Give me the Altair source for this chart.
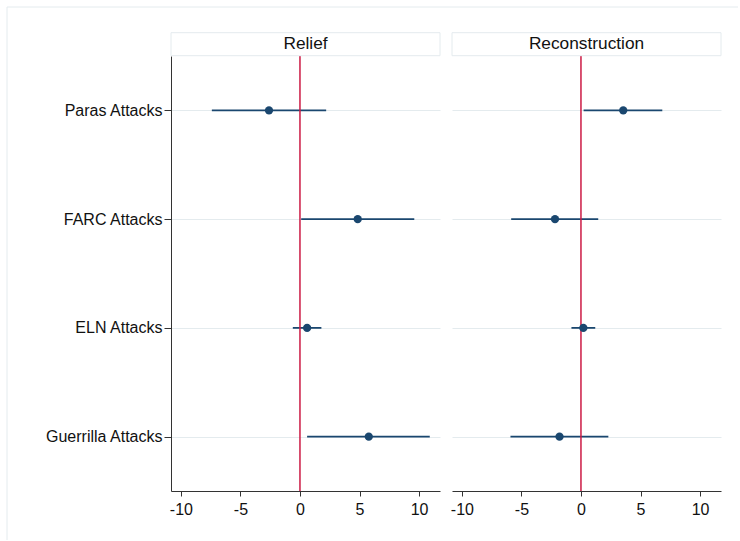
import altair as alt
import pandas as pd

FONT = "Liberation Sans"
NAVY = "#1a476f"
RED = "#cc1a44"
LIGHT = "#e4ebee"
AXIS = "#333333"

panels = ["Relief", "Reconstruction"]
variables = ["Paras Attacks", "FARC Attacks", "ELN Attacks", "Guerrilla Attacks"]
relief_coef = [-2.6, 4.85, 0.6, 5.78]
relief_lo = [-7.4, 0.1, -0.6, 0.6]
relief_hi = [2.2, 9.6, 1.8, 10.9]
recon_coef = [3.55, -2.18, 0.2, -1.8]
recon_lo = [0.22, -5.86, -0.8, -5.92]
recon_hi = [6.83, 1.45, 1.2, 2.3]
x_ticks = [-10, -5, 0, 5, 10]
x_domain = [-10.83, 11.76]

W = 269
H = 435


def panel(name, coef, lo, hi, first):
    df = pd.DataFrame({"var": variables, "coef": coef, "lo": lo, "hi": hi})
    one = pd.DataFrame({"z": [0]})
    xscale = alt.Scale(domain=x_domain, nice=False, zero=False)
    yscale = alt.Scale(type="point", domain=variables, padding=0.5)
    xaxis = alt.Axis(values=x_ticks, grid=False, domainColor=AXIS, tickColor=AXIS,
                     tickSize=5, labelPadding=5, labelFontSize=16, labelFont=FONT,
                     labelColor="#111111", title=None, labelExpr="'' + datum.value")
    if first:
        yaxis = alt.Axis(grid=True, gridColor=LIGHT, domainColor=AXIS, tickColor=AXIS,
                         tickSize=7, labelPadding=2, labelFontSize=16, labelFont=FONT,
                         labelColor="#111111", title=None)
    else:
        yaxis = alt.Axis(grid=True, gridColor=LIGHT, domain=False, ticks=False,
                         labels=False, title=None)

    y = alt.Y("var:N", scale=yscale, axis=yaxis, sort=variables)
    base = alt.Chart(df)
    ci = base.mark_rule(color=NAVY, strokeWidth=1.8).encode(
        x=alt.X("lo:Q", scale=xscale, axis=xaxis), x2="hi:Q", y=y)
    zero = alt.Chart(one).mark_rule(color=RED, strokeWidth=1.5).encode(
        x=alt.X("z:Q", scale=xscale, axis=xaxis))
    pts = base.mark_circle(color=NAVY, size=68, opacity=1).encode(
        x=alt.X("coef:Q", scale=xscale, axis=xaxis), y=y)
    head = alt.Chart(one).mark_rect(fill="white", stroke=LIGHT, strokeWidth=1).encode(
        x=alt.value(0), x2=alt.value(W), y=alt.value(-23.3), y2=alt.value(-0.3))
    txt = alt.Chart(one).mark_text(fontSize=17.3, font=FONT, baseline="alphabetic",
                                   align="center", color="#111111").encode(
        x=alt.value(W / 2), y=alt.value(-6.7), text=alt.value(name))
    layers = [ci, zero, pts, head, txt]
    if first:
        top = alt.Chart(one).mark_rule(color=LIGHT, strokeWidth=1).encode(
            x=alt.value(-164), x2=alt.value(567), y=alt.value(-49))
        left = alt.Chart(one).mark_rule(color=LIGHT, strokeWidth=1).encode(
            x=alt.value(-164), y=alt.value(-49), y2=alt.value(484))
        layers = [top, left] + layers
    return alt.layer(*layers).properties(width=W, height=H)


p1 = panel(panels[0], relief_coef, relief_lo, relief_hi, True)
p2 = panel(panels[1], recon_coef, recon_lo, recon_hi, False)

chart = alt.hconcat(p1, p2, spacing=12, bounds="flush").properties(
    padding={"left": 6, "top": 6, "right": 0, "bottom": 0},
    background="white",
).configure_view(stroke=None)

chart.save("out.html", embed_options={"renderer": "svg", "actions": False})
